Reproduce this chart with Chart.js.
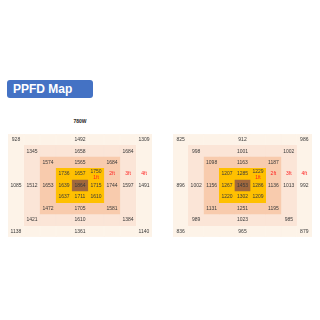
<!DOCTYPE html>
<html>
<head>
<meta charset="utf-8">
<script src="https://cdn.jsdelivr.net/npm/chart.js@4"></script>
<style>
  body { margin: 0; width: 320px; height: 320px; background: #fff; position: relative; font-family: "Liberation Sans", Arial, sans-serif; }
  .badge { position: absolute; left: 7px; top: 80px; width: 86px; height: 18px; background: #4472c4; border-radius: 3px;
           color: #fff; font-weight: bold; font-size: 12px; line-height: 18px; padding-left: 6px; box-sizing: border-box; }
  .watt { position: absolute; left: 8px; top: 118px; width: 144px; text-align: center; font-size: 5px; font-weight: bold; color: #222; }
  #left { position: absolute; left: 8px; top: 134px; }
  #right { position: absolute; left: 173px; top: 134px; }
</style>
</head>
<body>
<div class="badge">PPFD Map</div>
<div class="watt">780W</div>
<canvas id="left" width="144" height="103"></canvas>
<canvas id="right" width="139" height="103"></canvas>
<script>
// 9x9 grid, one row per line, null = empty cell
const leftRows = [
  [928, null, null, null, 1492, null, null, null, 1309],
  [null, 1345, null, null, 1658, null, null, 1684, null],
  [null, null, 1574, null, 1565, null, 1684, null, null],
  [null, null, null, 1736, 1657, 1750, null, null, null],
  [1085, 1512, 1653, 1639, 1864, 1715, 1744, 1597, 1491],
  [null, null, null, 1637, 1711, 1610, null, null, null],
  [null, null, 1472, null, 1705, null, 1581, null, null],
  [null, 1421, null, null, 1610, null, null, 1384, null],
  [1138, null, null, null, 1361, null, null, null, 1140]
];
const rightRows = [
  [825, null, null, null, 912, null, null, null, 986],
  [null, 998, null, null, 1001, null, null, 1002, null],
  [null, null, 1098, null, 1163, null, 1187, null, null],
  [null, null, null, 1207, 1285, 1229, null, null, null],
  [896, 1002, 1156, 1267, 1453, 1286, 1136, 1013, 992],
  [null, null, null, 1220, 1302, 1209, null, null, null],
  [null, null, 1131, null, 1251, null, 1195, null, null],
  [null, 989, null, null, 1023, null, null, 985, null],
  [836, null, null, null, 965, null, null, null, 879]
];
const columns = ["c1", "c2", "c3", "c4", "c5", "c6", "c7", "c8", "c9"];
const distLabels = ["1ft", "2ft", "3ft", "4ft"];
const distCols = [5, 6, 7, 8];
const levelColors = ["#fdf3e8", "#fbe5d7", "#f8cbad", "#ffc000", "#a0683d"];

function bandData(level) {
  return columns.map((c, i) => (i >= level && i <= 8 - level) ? [level, 9 - level] : null);
}

function textPlugin(rows) {
  return {
    id: "cellText",
    afterDatasetsDraw(chart) {
      const { ctx, scales: { x, y } } = chart;
      ctx.save();
      ctx.textAlign = "center";
      ctx.textBaseline = "middle";
      ctx.font = '5px "Liberation Sans"';
      ctx.fillStyle = "#3a3a3a";
      rows.forEach((row, r) => row.forEach((v, c) => {
        if (v == null) return;
        const yy = (r === 3 && c === 5) ? r + 0.3 : r + 0.5;
        ctx.fillText(String(v), x.getPixelForValue(c), y.getPixelForValue(yy));
      }));
      ctx.fillStyle = "#ff2020";
      distLabels.forEach((t, i) => {
        const yy = i === 0 ? 3.82 : 3.45;
        ctx.fillText(t, x.getPixelForValue(distCols[i]), y.getPixelForValue(yy));
      });
      ctx.restore();
    }
  };
}

function makeMap(id, rows) {
  new Chart(document.getElementById(id).getContext("2d"), {
    type: "bar",
    data: {
      labels: columns,
      datasets: levelColors.map((col, level) => ({
        data: bandData(level),
        backgroundColor: col,
        borderColor: col,
        borderWidth: 0.5,
        borderSkipped: false,
        barPercentage: 1,
        categoryPercentage: 1,
        grouped: false,
        order: levelColors.length - level
      }))
    },
    options: {
      responsive: false,
      animation: false,
      layout: { padding: 0 },
      scales: {
        x: { display: false },
        y: { display: false, min: 0, max: 9, reverse: true }
      },
      plugins: {
        legend: { display: false },
        tooltip: { enabled: false }
      }
    },
    plugins: [textPlugin(rows)]
  });
}

makeMap("left", leftRows);
makeMap("right", rightRows);
</script>
</body>
</html>
